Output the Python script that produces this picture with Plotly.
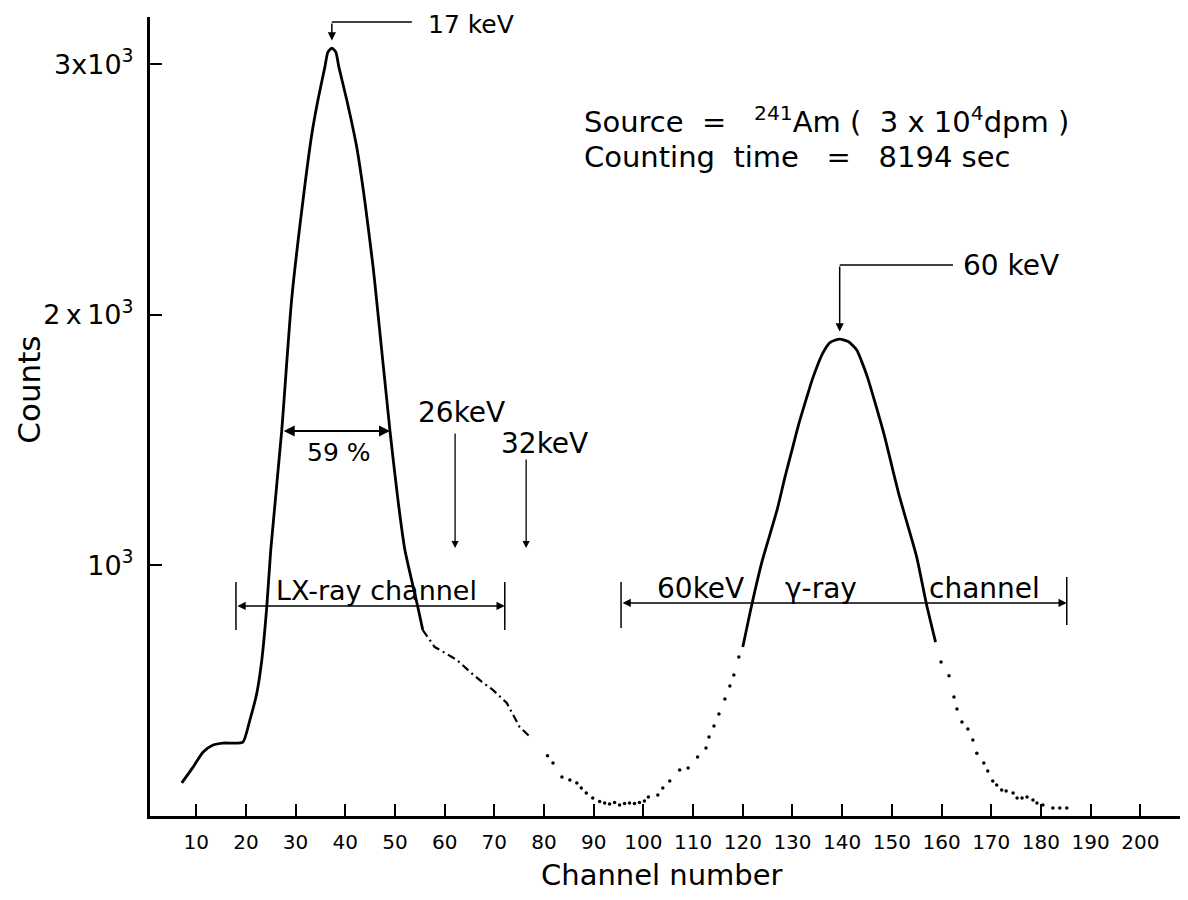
import plotly.graph_objects as go

# ---------------- data ----------------
channel = [7.1, 9.4, 11.4, 13.4, 15.4, 17.4, 19.4, 20.8, 22.2, 23.2, 24.2, 25.0,
           27.2, 29.2, 31.5, 33.3, 34.5, 35.9, 36.5, 37.3, 38.1, 38.7, 40.3, 42.3,
           43.9, 45.6, 46.3, 49.0, 50.6, 52.0, 53.2, 54.6, 55.6,
           57.0, 58.0, 59.1, 61.5, 62.5, 65.1, 67.5, 69.7, 72.5, 75.1, 77.5,
           80.7, 81.8, 83.6, 85.2, 86.6, 87.5, 88.5, 89.8, 91.2, 92.2, 93.2, 94.2,
           95.2, 96.2, 97.2, 98.2, 99.2, 100.2, 101.0, 102.9, 103.9, 105.3, 107.3,
           109.0, 110.9, 112.6, 113.2, 114.2, 115.2, 116.4, 117.4, 118.2, 119.2,
           120.0, 121.8, 123.8, 126.9, 128.5, 129.9, 131.1, 132.9, 134.1,
           136.1, 137.6, 139.5, 141.3, 142.9, 143.9, 145.1, 146.9, 148.6, 150.2,
           151.6, 153.2, 155.0, 157.0, 158.8,
           159.9, 161.5, 162.5, 163.1, 164.1, 165.3, 166.3, 167.1, 168.5, 169.3,
           170.3, 171.1, 172.1, 173.0, 174.4, 175.2, 176.2, 177.2, 178.4, 179.2,
           180.4, 182.4, 183.8, 185.2]
counts = [132, 196, 255, 283, 291, 291, 295, 383, 491, 622, 834, 1061,
          1536, 2059, 2458, 2725, 2857, 2989, 3048, 3064, 3048, 2989, 2857, 2669,
          2458, 2191, 2059, 1536, 1261, 1061, 954, 834, 742,
          702, 674, 662, 634, 622, 575, 535, 503, 451, 355, 310,
          240, 211, 156, 144, 132, 112, 92, 72, 58, 52, 48, 54,
          44, 50, 52, 50, 54, 60, 76, 84, 112, 140, 184,
          192, 235, 271, 315, 359, 407, 467, 519, 563, 634,
          674, 842, 1010, 1221, 1353, 1460, 1552, 1672, 1748,
          1847, 1890, 1903, 1892, 1860, 1815, 1750, 1630, 1510, 1380,
          1270, 1160, 1033, 842, 694,
          614, 560, 475, 427, 375, 347, 303, 250, 211, 180,
          140, 124, 104, 100, 92, 72, 72, 76, 64, 52,
          44, 32, 32, 32]

x_tick_vals = list(range(10, 201, 10))
x_tick_text = [str(v) for v in x_tick_vals]
y_tick_vals = [1000, 2000, 3000]
y_tick_text = ["10<sup>3</sup>", "2\u2009x\u200910<sup>3</sup>", "3x10<sup>3</sup>"]

# ---------------- styling ----------------
FONT = "DejaVu Sans"
INK = "black"
NB = "\u00a0"


def pick(lo, hi, lo_incl=True, hi_incl=True):
    xs, ys = [], []
    for c, n in zip(channel, counts):
        ok_lo = c >= lo if lo_incl else c > lo
        ok_hi = c <= hi if hi_incl else c < hi
        if ok_lo and ok_hi:
            xs.append(c)
            ys.append(n)
    return xs, ys


fig = go.Figure()

x1, y1 = pick(0, 55.6)
fig.add_trace(go.Scatter(x=x1, y=y1, mode="lines",
                         line=dict(color=INK, width=2.8, shape="spline", smoothing=0.6)))
x2, y2 = pick(55.6, 77.5)
fig.add_trace(go.Scatter(x=x2, y=y2, mode="lines",
                         line=dict(color=INK, width=2.2, dash="8px,4px,2px,4px")))
x3, y3 = pick(77.5, 120.0, False, False)
fig.add_trace(go.Scatter(x=x3, y=y3, mode="markers",
                         marker=dict(color=INK, size=3.5)))
x4, y4 = pick(120.0, 158.8)
fig.add_trace(go.Scatter(x=x4, y=y4, mode="lines",
                         line=dict(color=INK, width=2.8, shape="spline", smoothing=0.6)))
x5, y5 = pick(158.8, 300, False, True)
fig.add_trace(go.Scatter(x=x5, y=y5, mode="markers",
                         marker=dict(color=INK, size=3.5)))

# peak positions from the data
left = [(c, n) for c, n in zip(channel, counts) if c < 90]
right = [(c, n) for c, n in zip(channel, counts) if c > 90]
p17 = max(left, key=lambda t: t[1])
p60 = max(right, key=lambda t: t[1])

ann = []
shapes = []


def arrow(x, y, ax, ay, both=False, w=1.5):
    d = dict(x=x, y=y, ax=ax, ay=ay, xref="x", yref="y", axref="x", ayref="y",
             text="", showarrow=True, arrowhead=2, arrowsize=1.1, arrowwidth=w,
             arrowcolor=INK)
    if both:
        d["arrowside"] = "end+start"
        d["startarrowhead"] = 2
        d["startarrowsize"] = 1.1
    ann.append(d)


def label(x, y, text, size=24, xanchor="center"):
    ann.append(dict(x=x, y=y, xref="x", yref="y", text=text, showarrow=False,
                    xanchor=xanchor, yanchor="middle",
                    font=dict(family=FONT, size=size, color=INK)))


def seg(x0, y0, x1_, y1_, w=1.5):
    shapes.append(dict(type="line", xref="x", yref="y", x0=x0, y0=y0, x1=x1_, y1=y1_,
                       line=dict(color=INK, width=w)))


# 17 keV leader
arrow(p17[0], p17[1] + 30, p17[0], 3168)
seg(p17[0], 3168, 53.4, 3168)
label(56.2, 3160, "17" + NB + "keV", 25, "left")

# 60 keV leader
arrow(p60[0], p60[1] + 30, p60[0], 2198)
seg(p60[0], 2198, 162.3, 2198)
label(164.0, 2198, "60" + NB + "keV", 28, "left")

# FWHM
arrow(49.0, 1536, 27.3, 1536, both=True, w=2)
label(38.7, 1452, "59" + NB + "%", 25)

# 26 / 32 keV markers
label(63.4, 1608, "26keV", 28)
arrow(62.1, 1069, 62.1, 1532, w=1.3)
label(80.1, 1488, "32keV", 28)
arrow(76.4, 1069, 76.4, 1428, w=1.3)

# LX-ray channel
arrow(72.1, 838, 18.0, 838, both=True, w=1.5)
seg(18.0, 742, 18.0, 934)
seg(72.1, 742, 72.1, 934)
label(46.3, 900, "LX-ray" + NB + "channel", 27)

# 60 keV gamma-ray channel
arrow(185.2, 850, 95.5, 850, both=True, w=1.5)
seg(95.5, 750, 95.5, 934)
seg(185.2, 762, 185.2, 954)
label(111.4, 906, "60keV", 28)
label(135.8, 906, "γ-ray", 28)
label(168.6, 906, "channel", 28)

# source text
label(87.6, 2777,
      "Source" + NB * 2 + "=" + NB * 3 + "<sup>241</sup>Am" + NB + "(" + NB * 2 + "3" + NB + "x" + NB
      + "10<sup>4</sup>dpm" + NB + ")", 29, "left")
label(87.6, 2629,
      "Counting" + NB * 2 + "time" + NB * 3 + "=" + NB * 3 + "8194" + NB + "sec", 29, "left")

# axis titles
ann.append(dict(x=-0.116, y=0.533, xref="paper", yref="paper", text="Counts",
                textangle=-90, showarrow=False, xanchor="center", yanchor="middle",
                font=dict(family=FONT, size=31, color=INK)))
ann.append(dict(x=0.493, y=-0.074, xref="paper", yref="paper", text="Channel" + NB + "number",
                showarrow=False, xanchor="center", yanchor="middle",
                font=dict(family=FONT, size=29, color=INK)))

# the page body has an 8 px margin, so the figure box is offset by 8 px
fig.update_layout(
    width=1188, height=900,
    margin=dict(l=142, r=8, t=9, b=92),
    paper_bgcolor="white", plot_bgcolor="white",
    showlegend=False,
    annotations=ann, shapes=shapes,
    font=dict(family=FONT, color=INK),
)
fig.update_xaxes(range=[0.7, 209.6], showgrid=False, zeroline=False,
                 showline=True, linewidth=3, linecolor=INK,
                 ticks="inside", ticklen=12, tickwidth=2, tickcolor=INK,
                 tickvals=x_tick_vals, ticktext=x_tick_text,
                 tickfont=dict(family=FONT, size=20, color=INK),
                 ticklabelstandoff=6)
fig.update_yaxes(range=[0, 3188], showgrid=False, zeroline=False,
                 showline=True, linewidth=3, linecolor=INK,
                 ticks="inside", ticklen=12, tickwidth=2, tickcolor=INK,
                 tickvals=y_tick_vals, ticktext=y_tick_text,
                 tickfont=dict(family=FONT, size=27, color=INK),
                 ticklabelstandoff=8)

fig.write_html("out.html")
